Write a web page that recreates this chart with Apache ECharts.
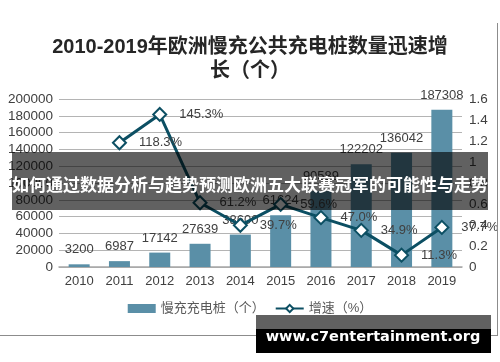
<!DOCTYPE html>
<html>
<head>
<meta charset="utf-8">
<script src="https://cdn.jsdelivr.net/npm/echarts@6/dist/echarts.min.js"></script>
<style>html,body{margin:0;padding:0;background:#fff}#c{width:500px;height:362px}</style>
</head>
<body>
<div id="c"></div>
<script>
var years = ['2010','2011','2012','2013','2014','2015','2016','2017','2018','2019'];
var chargers = [3200, 6987, 17142, 27639, 38600, 61624, 90589, 122202, 136042, 187308];
var growth = [null, 1.183, 1.453, 0.612, 0.397, 0.596, 0.470, 0.349, 0.113, 0.377];
var leftTicks = {min: 0, max: 200000, interval: 20000};
var rightTicks = {min: 0, max: 1.6, interval: 0.2};
var titleText = '2010-2019年欧洲慢充公共充电桩数量迅速增\n长（个）';
var bandText = '如何通过数据分析与趋势预测欧洲五大联赛冠军的可能性与走势';
var watermark = 'www.c7entertainment.org';
var seriesNames = ['慢充充电桩（个）', '增速（%）'];

var FONT = '"Liberation Sans", Arial, "Noto Sans CJK SC", sans-serif';
var chart = echarts.init(document.getElementById('c'), null, {renderer: 'canvas'});
chart.setOption({
  animation: false,
  textStyle: {fontFamily: FONT},
  title: {
    text: titleText, left: 'center', top: 30,
    textStyle: {fontSize: 20, fontWeight: 'bold', color: '#262626', lineHeight: 24, fontFamily: FONT}
  },
  grid: {left: 59, right: 38, top: 99, bottom: 95},
  legend: {
    bottom: 42, left: 'center', itemWidth: 28, itemHeight: 9, itemGap: 10,
    textStyle: {fontSize: 13, color: '#595959', fontFamily: FONT},
    data: [
      {name: seriesNames[0], icon: 'rect'},
      {name: seriesNames[1]}
    ]
  },
  xAxis: {
    type: 'category', data: years,
    axisLine: {lineStyle: {color: '#a6a6a6', width: 1.5}},
    axisTick: {show: false},
    axisLabel: {fontSize: 13, color: '#404040', margin: 8}
  },
  yAxis: [{
    type: 'value', min: leftTicks.min, max: leftTicks.max, interval: leftTicks.interval,
    axisLine: {show: false}, axisTick: {show: false},
    axisLabel: {fontSize: 13.5, color: '#404040', margin: 6, formatter: function (v) { return String(v); }},
    splitLine: {lineStyle: {color: '#b4b4b4', width: 1}}
  }, {
    type: 'value', min: rightTicks.min, max: rightTicks.max, interval: rightTicks.interval,
    axisLine: {show: false}, axisTick: {show: false},
    axisLabel: {fontSize: 13.5, color: '#404040', margin: 7, formatter: function (v) { return String(Math.round(v * 10) / 10); }},
    splitLine: {show: false}
  }],
  series: [{
    name: seriesNames[0], type: 'bar', data: chargers, barWidth: 21,
    itemStyle: {color: '#5a8fa7'},
    label: {show: true, position: 'top', distance: 8, fontSize: 13, color: '#404040'}
  }, {
    name: seriesNames[1], type: 'line', yAxisIndex: 1, data: growth,
    symbol: 'diamond', symbolSize: 13,
    lineStyle: {color: '#0c4f63', width: 3},
    itemStyle: {color: '#ffffff', borderColor: '#0c4f63', borderWidth: 2},
    label: {show: true, position: 'right', distance: 12, fontSize: 13, color: '#404040',
      formatter: function (p) { return (p.value * 100).toFixed(1) + '%'; }}
  }],
  graphic: [
    {type: 'line', z: 50, shape: {x1: 497.5, y1: 23, x2: 497.5, y2: 336}, style: {stroke: '#8c8c8c', lineWidth: 1}},
    {type: 'line', z: 50, shape: {x1: 0, y1: 335.5, x2: 497.5, y2: 335.5}, style: {stroke: '#8c8c8c', lineWidth: 1}},
    {type: 'rect', z: 100, shape: {x: 12, y: 152, width: 476, height: 58}, style: {fill: 'rgba(0,0,0,0.62)'}},
    {type: 'text', z: 101, x: 250, y: 185, style: {text: bandText, align: 'center', verticalAlign: 'middle',
      fontSize: 17, fontWeight: 'bold', fontFamily: '"Noto Sans CJK SC", sans-serif', fill: '#ffffff'}},
    {type: 'rect', z: 100, shape: {x: 256, y: 315, width: 235, height: 14}, style: {fill: 'rgba(0,0,0,0.62)'}},
    {type: 'rect', z: 100, shape: {x: 256, y: 329, width: 235, height: 24}, style: {fill: '#000000'}},
    {type: 'text', z: 101, x: 373, y: 337, style: {text: watermark, align: 'center', verticalAlign: 'middle',
      fontSize: 14.5, fontWeight: 'bold', fontFamily: '"DejaVu Sans", sans-serif', fill: '#ffffff'}}
  ]
});
</script>
</body>
</html>
